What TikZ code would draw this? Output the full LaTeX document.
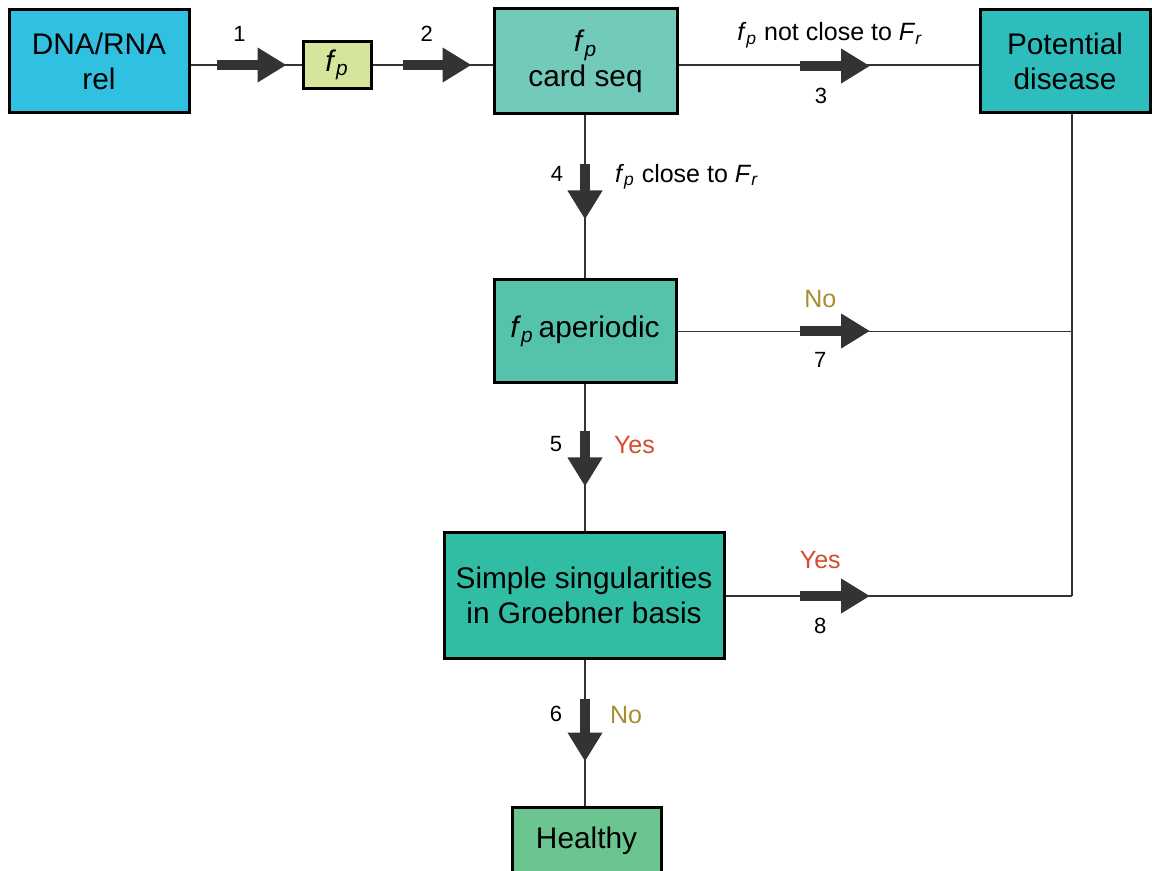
\documentclass[tikz,border=0pt]{standalone}
\usepackage{fontspec}
\setmainfont{Liberation Sans}
\usetikzlibrary{arrows.meta}
\definecolor{ink}{HTML}{333333}
\definecolor{dnabg}{HTML}{30C0E2}
\definecolor{fpbg}{HTML}{D5E69C}
\definecolor{cardbg}{HTML}{72CABB}
\definecolor{potbg}{HTML}{2DBDBD}
\definecolor{aperbg}{HTML}{55C3AB}
\definecolor{simplebg}{HTML}{30BDA3}
\definecolor{healthybg}{HTML}{6AC590}
\definecolor{nocol}{HTML}{A88C2E}
\definecolor{yescol}{HTML}{D34C2F}
\newcommand{\fp}{\textit{f}\textsubscript{\textit{p}}}
\newcommand{\Fr}{\textit{F}\textsubscript{\textit{r}}}
\tikzset{
  box/.style={draw=black, line width=1.5pt, inner sep=0pt, align=center,
              font=\fontsize{14.9}{17.5}\selectfont},
  conn/.style={draw=ink, line width=0.75pt},
  blk/.style={draw=ink, line width=5pt, -{Triangle[length=14.5pt, width=16.5pt]}},
  num/.style={font=\fontsize{11}{13}\selectfont, inner sep=0pt},
  lbl/.style={font=\fontsize{12.5}{14}\selectfont, inner sep=0pt},
  nolbl/.style={lbl, text=nocol},
  yeslbl/.style={lbl, text=yescol},
}

\begin{document}
\begin{tikzpicture}[x=0.5pt, y=-0.5pt]
\clip (0,0) rectangle (1152,871);

% --- boxes ---
\node[box, fill=dnabg, minimum width=90pt, minimum height=51.5pt] (dna) at (99,61.5) {DNA/RNA\\rel};
\node[box, fill=fpbg, minimum width=34pt, minimum height=23.5pt] (fp) at (337,65) {\fp};
\node[box, fill=cardbg, minimum width=91.5pt, minimum height=52.5pt] (card) at (585.5,61.5) {\fp\\card seq};
\node[box, fill=potbg, minimum width=85pt, minimum height=51.5pt] (pot) at (1065,61.5) {Potential\\disease};
\node[box, fill=aperbg, minimum width=91pt, minimum height=51.5pt] (aper) at (585,331.5) {\fp\,aperiodic};
\node[box, fill=simplebg, minimum width=140pt, minimum height=62.5pt] (simple) at (584,595.5) {Simple singularities\\in Groebner basis};
\node[box, fill=healthybg, minimum width=74.5pt, minimum height=34pt] (healthy) at (586.5,841) {Healthy};
\coordinate (bus) at (1072,596);

% --- connectors ---
\draw[conn] (dna.east |- fp.west) -- (fp.west);
\draw[conn] (fp.east) -- (card.west |- fp.east);
\draw[conn] (card.east |- fp.east) -- (pot.west |- fp.east);
\draw[conn] (card.south -| aper.north) -- (aper.north);
\draw[conn] (aper.south) -- (aper.south |- simple.north);
\draw[conn] (simple.south -| aper.south) -- (healthy.north -| aper.south);
\draw[conn] (aper.east) -- (aper.east -| bus);
\draw[conn] (simple.east |- bus) -- (bus);
\draw[conn] (pot.south -| bus) -- (bus);

% --- block arrows and labels ---
\draw[blk] ([xshift=13pt]dna.east |- fp.west) -- ++(70,0)
  node[num, pos=0.33, above=9pt] {1};
\draw[blk] ([xshift=15pt]fp.east) -- ++(69,0)
  node[num, pos=0.35, above=9pt] {2};
\coordinate (a3) at (800,66);
\draw[blk] (a3) -- ++(70,0)
  node[num, pos=0.3, below=8.5pt] {3}
  node[lbl, pos=0.43, anchor=base, yshift=12.5pt] {\fp\ not close to \Fr};
\coordinate (a7) at (800,331);
\draw[blk] (a7) -- ++(70,0)
  node[num, pos=0.29, below=8pt] {7}
  node[nolbl, pos=0.29, anchor=base, yshift=11.5pt] {No};
\coordinate (a8) at (800,596);
\draw[blk] (a8) -- ++(70,0)
  node[num, pos=0.29, below=8.5pt] {8}
  node[yeslbl, pos=0.29, anchor=base, yshift=14pt] {Yes};
\draw[blk] ([yshift=-24.5pt]card.south -| aper.north) -- ++(0,55)
  node[num, pos=0.18, left=8.5pt] {4}
  node[lbl, pos=0.22, right=12.5pt] {\fp\ close to \Fr};
\draw[blk] ([yshift=-23.5pt]aper.south) -- ++(0,55)
  node[num, pos=0.22, left=9pt] {5}
  node[yeslbl, pos=0.25, right=12pt] {Yes};
\draw[blk] ([yshift=-19.5pt]simple.south -| aper.south) -- ++(0,63)
  node[num, pos=0.24, left=9pt] {6}
  node[nolbl, pos=0.27, right=10pt] {No};

\end{tikzpicture}
\end{document}
